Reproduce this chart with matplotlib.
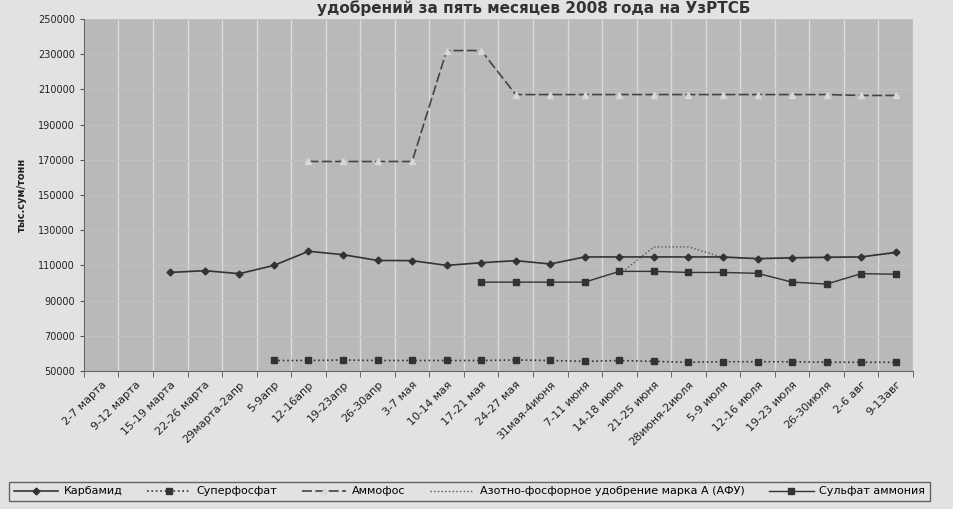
import numpy as np
import matplotlib
matplotlib.use('Agg')
import matplotlib.pyplot as plt

nan = np.nan

# Categories (weeks of 2008)
weeks = ['2-7 марта', '9-12 марта', '15-19 марта', '22-26 марта', '29марта-2апр',
         '5-9апр', '12-16апр', '19-23апр', '26-30апр', '3-7 мая', '10-14 мая',
         '17-21 мая', '24-27 мая', '31мая-4июня', '7-11 июня', '14-18 июня',
         '21-25 июня', '28июня-2июля', '5-9 июля', '12-16 июля', '19-23 июля',
         '26-30июля', '2-6 авг', '9-13авг']

# Prices, thousand sum per tonne
karbamid = [nan, nan, 106000, 107000, 105300, 110000, 118000, 116100, 112800, 112700,
            110000, 111500, 112700, 110800, 114800, 114800, 114800, 114800, 114800,
            113800, 114300, 114600, 114800, 117400]
superfosfat = [nan, nan, nan, nan, nan, 56000, 56000, 56300, 56000, 56000, 56000, 56000,
               56300, 56000, 55500, 56000, 55500, 55000, 55300, 55300, 55300, 55000,
               55000, 55000]
ammofos = [nan, nan, nan, nan, nan, nan, 169000, 169000, 169000, 169000, 232000, 232000,
           207000, 207000, 207000, 207000, 207000, 207000, 207000, 207000, 207000,
           207000, 206500, 206500]
afu = [nan] * 15 + [105000, 120500, 120500, 114500, 114000, 114500, 114500, 115000, 117000]
sulfat = [nan] * 11 + [100500, 100500, 100500, 100500, 106600, 106600, 106000, 106000,
                       105500, 100500, 99400, 105300, 105000]

yticks = list(range(50000, 250001, 20000))

x = np.arange(len(weeks))
ink = '#333333'

fig = plt.figure(figsize=(9.54, 5.09), dpi=100)
fig.patch.set_facecolor('#e2e2e0')
ax = fig.add_axes([0.088, 0.271, 0.869, 0.692])
ax.set_facecolor('#b9b9b7')

# gridlines
for b in np.arange(-0.5, len(weeks), 1.0):
    ax.axvline(b, color='#dcdcda', lw=1.0, zorder=1)
for t in yticks:
    ax.axhline(t, color='#c2c2c0', lw=0.7, zorder=1)

ax.plot(x, karbamid, '-', color=ink, lw=1.2, marker='D', ms=3.5, label='Карбамид', zorder=4)
ax.plot(x, superfosfat, ':', color=ink, lw=1.2, marker='s', ms=4, label='Суперфосфат', zorder=4)
ax.plot(x, ammofos, '--', color='#444444', lw=1.2, marker='^', ms=4, mfc='#d8d8d8',
        mec='#d8d8d8', dashes=(6, 2), label='Аммофос', zorder=4)
ax.plot(x, afu, ':', color='#555555', lw=1.0, label='Азотно-фосфорное удобрение марка А (АФУ)', zorder=3)
ax.plot(x, sulfat, '-', color=ink, lw=1.0, marker='s', ms=4, label='Сульфат аммония', zorder=4)

ax.set_xlim(-0.5, len(weeks) - 0.5)
ax.set_ylim(50000, 250000)
ax.set_yticks(yticks)
ax.set_yticklabels([str(t) for t in yticks], fontsize=7, color='#222222')
ax.set_xticks(x)
ax.set_xticklabels(weeks, rotation=45, ha='right', rotation_mode='anchor', fontsize=8, color='#222222')
ax.tick_params(axis='x', length=0, pad=6)
ax.set_xticks(np.arange(-0.5, len(weeks), 1.0), minor=True)
ax.tick_params(axis='x', which='minor', length=4, color='#555555')
ax.tick_params(axis='y', length=3, color='#555555')
for s in ['top', 'right']:
    ax.spines[s].set_visible(False)
ax.spines['left'].set_color('#666666')
ax.spines['bottom'].set_color('#666666')

ax.set_ylabel('тыс.сум/тонн', fontsize=7, fontweight='bold', color='#222222', labelpad=8)

fig.text(0.56, 0.999, 'удобрений за пять месяцев 2008 года на УзРТСБ', ha='center', va='top',
         fontsize=11, fontweight='bold', color='#333333')

leg = fig.legend(loc='lower center', bbox_to_anchor=(0.492, 0.005), ncol=5, fontsize=8,
                 frameon=True, fancybox=False, handlelength=4, columnspacing=2.2,
                 handletextpad=0.5, borderpad=0.4)
leg.get_frame().set_edgecolor('#444444')
leg.get_frame().set_facecolor('#e2e2e0')

fig.savefig('out.png', dpi=100, facecolor=fig.get_facecolor())
